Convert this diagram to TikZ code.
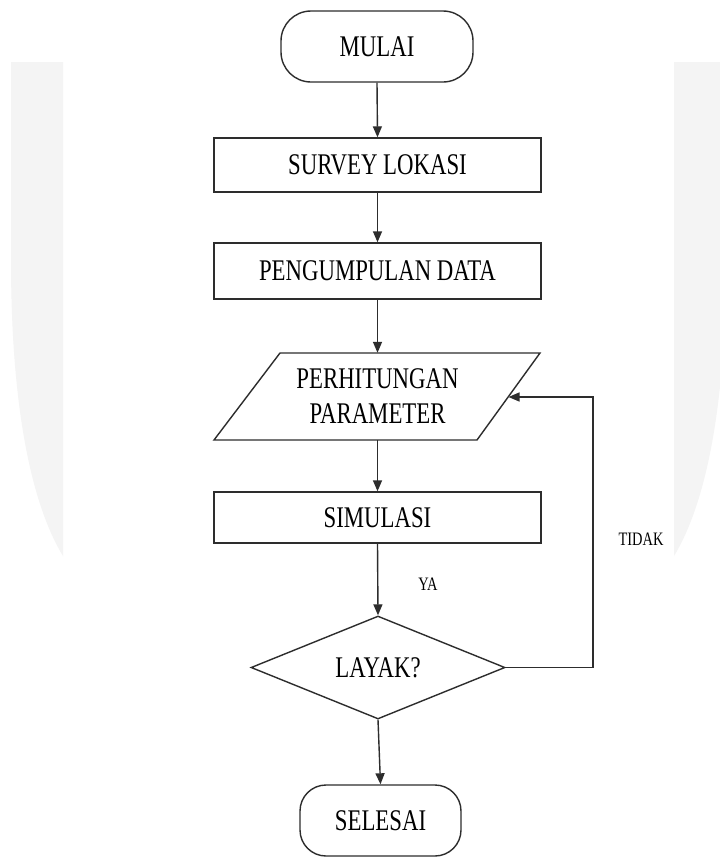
\documentclass[tikz,border=0pt]{standalone}
\usepackage{fontspec}
\setmainfont{Liberation Serif}[FakeStretch=0.76]
\usetikzlibrary{arrows.meta,shapes.geometric}
\definecolor{wm}{RGB}{244,244,244}
\definecolor{ln}{RGB}{45,45,45}
\tikzset{
  box/.style={draw=ln, line width=1.4pt, rectangle, inner sep=0pt, font=\fontsize{30}{35}\selectfont, text=black},
  term/.style={box, rounded corners=30pt},
  dec/.style={draw=ln, line width=1.4pt, diamond, aspect=2.466, inner sep=0pt, font=\fontsize{30}{35}\selectfont},
  lbl/.style={inner sep=0pt, font=\fontsize{19}{22}\selectfont},
  arr/.style={draw=ln, line width=1.4pt, -{Triangle[length=11pt,width=9pt]}}
}
\begin{document}
\begin{tikzpicture}[x=1pt,y=-1pt]
\useasboundingbox (0,0) rectangle (720,857);
\fill[white] (0,0) rectangle (720,857);
\begin{scope}
\clip (0,0) rectangle (720,857);
\fill[wm] (11,62) -- (11,260) .. controls (11,420) and (35,510) .. (63,556) -- (63,62) -- cycle;
\fill[wm] (726,62) -- (726,260) .. controls (726,420) and (702,510) .. (674,556) -- (674,62) -- cycle;
\end{scope}

\node[term, minimum width=192pt, minimum height=71pt] (mulai) at (377,46.5) {MULAI};
\node[box, minimum width=327pt, minimum height=54pt] (survey) at (377.5,165) {SURVEY LOKASI};
\node[box, minimum width=327pt, minimum height=56pt] (data) at (377.5,271) {PENGUMPULAN DATA};
\draw[draw=ln, line width=1.4pt, line join=miter] (280,353) -- (540,353) -- (477,440) -- (214,440) -- cycle;
\node[inner sep=0pt, minimum width=260pt, minimum height=87pt, align=center, font=\fontsize{30}{35}\selectfont] (param) at (377.5,396.5) {PERHITUNGAN\\PARAMETER};
\coordinate (pin) at (508.5,397);
\node[box, minimum width=327pt, minimum height=51pt] (simul) at (377.5,517.5) {SIMULASI};
\node[dec, minimum width=254pt, minimum height=103pt] (layak) at (378,667.5) {LAYAK?};
\node[term, rounded corners=26pt, minimum width=161pt, minimum height=71pt] (selesai) at (380.5,820.5) {SELESAI};
\coordinate (turn) at (593,397);

\draw[arr] (mulai.south) -- (survey.north);
\draw[arr] (survey.south) -- (data.north);
\draw[arr] (data.south) -- (param.north);
\draw[arr] (param.south) -- (simul.north);
\draw[arr] (simul.south) -- (layak.north);
\draw[arr] (layak.south) -- (selesai.north);
\draw[arr] (layak.east) -| (turn) -- (pin);

\node[lbl] (ya) at (428,584) {YA};
\node[lbl] (tidak) at (641,539) {TIDAK};
\end{tikzpicture}
\end{document}
